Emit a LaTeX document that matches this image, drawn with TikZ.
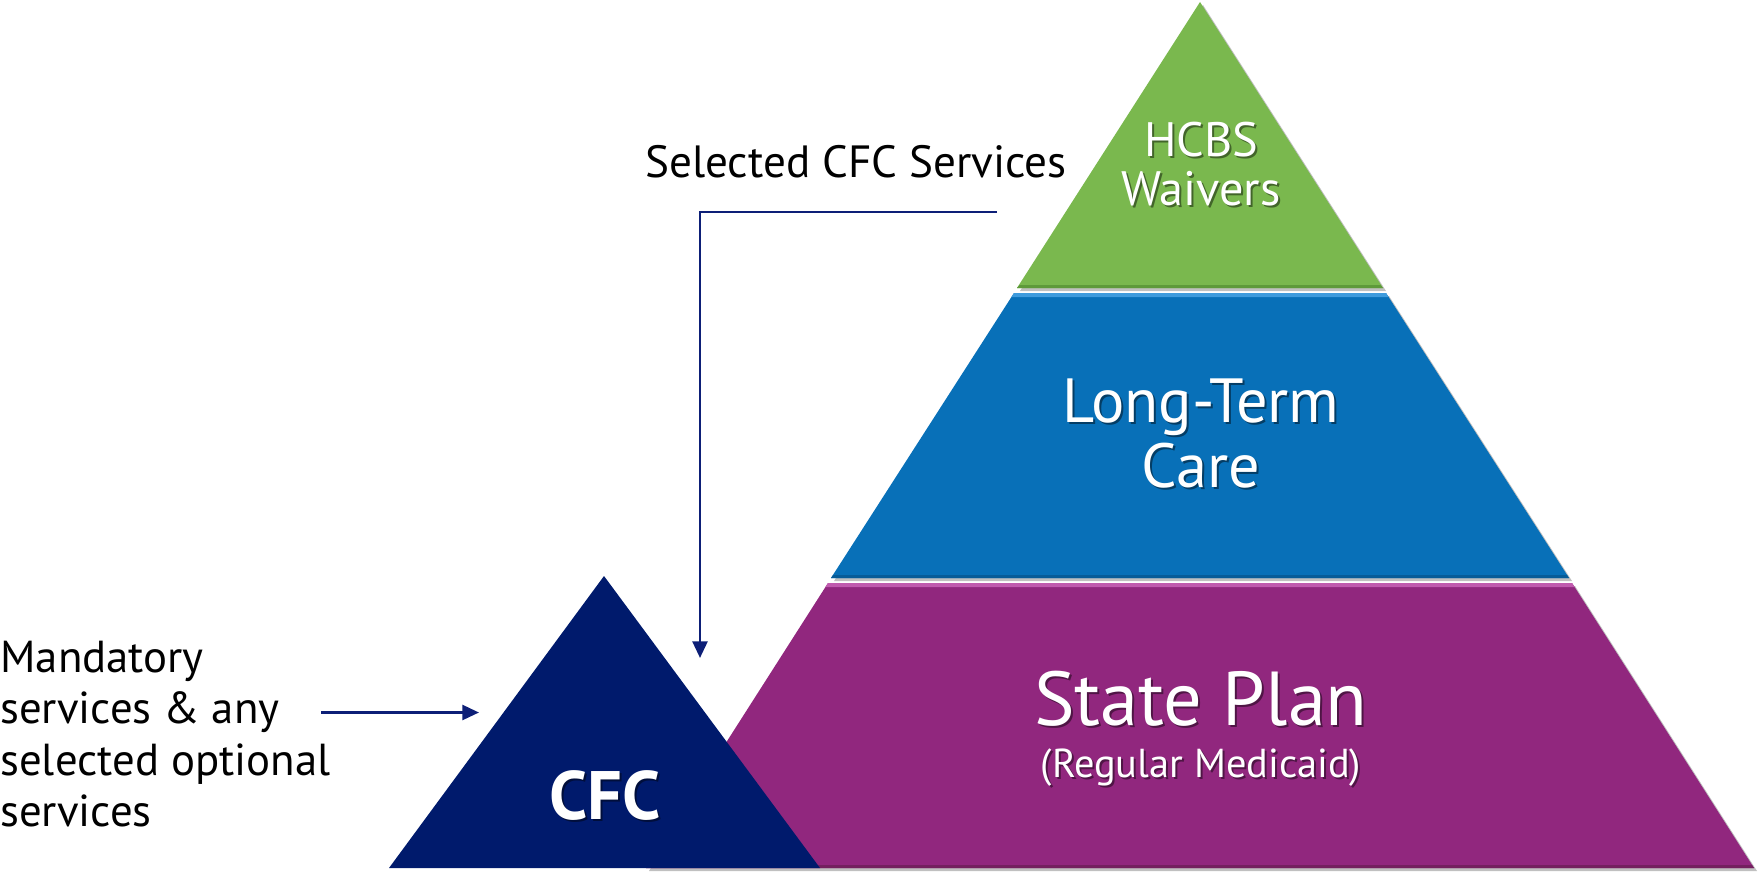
\documentclass[tikz,border=0pt]{standalone}
\usepackage{fontspec}
\setmainfont{PT Sans}
\usetikzlibrary{calc,arrows.meta}

\definecolor{wgreen}{HTML}{7AB84E}
\definecolor{wgreendark}{HTML}{5E9A3A}
\definecolor{wblue}{HTML}{0870B8}
\definecolor{wbluelight}{HTML}{3E9BDD}
\definecolor{wbluedark}{HTML}{075C98}
\definecolor{wpurple}{HTML}{91277E}
\definecolor{wpurplelight}{HTML}{C05AAE}
\definecolor{wpurpledark}{HTML}{74205F}
\definecolor{navy}{HTML}{001A6C}
\definecolor{connblue}{HTML}{0D1F77}

\tikzset{
  conn/.style={draw=connblue, line width=1.6pt,
    -{Triangle[length=9.5pt,width=8.5pt]}},
  bandshadow/.style={fill=black!45, opacity=.55},
  txtwhite/.style={text=white, align=center, inner sep=0pt},
  txtshade/.style={text=black, opacity=.45, align=center, inner sep=0pt},
  plain/.style={text=black, align=left, inner sep=0pt},
}

% white text with a soft drop shadow: position, name, font, text
\newcommand\shadedlabel[4]{%
  \node[txtshade, font=#3] at ($(#1)+(2,2)$) {#4};
  \node[txtwhite, font=#3] (#2) at (#1) {#4};}

\begin{document}
\begin{tikzpicture}[x=0.02cm,y=-0.02cm]
\useasboundingbox (0,0) rectangle (1763,875);

% drop shadows of the three pyramid bands
\begin{scope}[shift={(3,3)}]
  \fill[bandshadow] (1200,2) -- (1383,288) -- (1017,288) -- cycle;
  \fill[bandshadow] (1014,293) -- (1386,293) -- (1569,578) -- (831,578) -- cycle;
  \fill[bandshadow] (828,583) -- (1572,583) -- (1754,868) -- (646,868) -- cycle;
\end{scope}

% pyramid bands
\fill[wgreen] (1200,2) -- (1383,288) -- (1017,288) -- cycle;
\fill[wblue] (1014,293) -- (1386,293) -- (1569,578) -- (831,578) -- cycle;
\fill[wpurple] (828,583) -- (1572,583) -- (1754,868) -- (646,868) -- cycle;

% bevel highlights on top and darker rims at the bottom
\fill[wbluelight] (1014,293) -- (1386,293) -- (1388.5,297) -- (1011.5,297) -- cycle;
\fill[wpurplelight] (828,583) -- (1572,583) -- (1574.5,587) -- (825.5,587) -- cycle;
\fill[wgreendark] (1019.5,285) -- (1380.5,285) -- (1383,288) -- (1017,288) -- cycle;
\fill[wbluedark] (833,575) -- (1567,575) -- (1569,578) -- (831,578) -- cycle;
\fill[wpurpledark] (648,865) -- (1752,865) -- (1754,868) -- (646,868) -- cycle;

% CFC triangle in front of the pyramid
\fill[navy] (604,576) -- (820,868) -- (389,868) -- cycle;

% band labels
\shadedlabel{1201,164}{hcbs}{\fontsize{27.5}{28}\selectfont}{HCBS\\Waivers}
\shadedlabel{1201,434}{ltc}{\fontsize{35.5}{37}\selectfont}{Long-Term\\Care}
\shadedlabel{1201,699}{stateplan}{\fontsize{43.5}{44}\selectfont}{State Plan}
\shadedlabel{1201,768}{medicaid}{\fontsize{23}{26}\selectfont}{(Regular Medicaid)}
\shadedlabel{605,796}{cfc}{\fontsize{39}{40}\selectfont\bfseries}{CFC}

% side labels
\node[plain, font=\fontsize{25.7}{29}\selectfont] (selected) at (856,162) {Selected CFC Services};
\node[plain, anchor=west, font=\fontsize{25.5}{29.2}\selectfont] (mandatory) at (0,734)
  {Mandatory\\services \& any\\selected optional\\services};

% connectors into the CFC triangle
\coordinate (selstart) at (997,212);
\coordinate (seltip) at (700,658);
\draw[conn] (selstart) -| (seltip);
\coordinate (mandstart) at (321,712.5);
\coordinate (mandtip) at (479,712.5);
\draw[conn] (mandstart) -- (mandtip);
\end{tikzpicture}
\end{document}
